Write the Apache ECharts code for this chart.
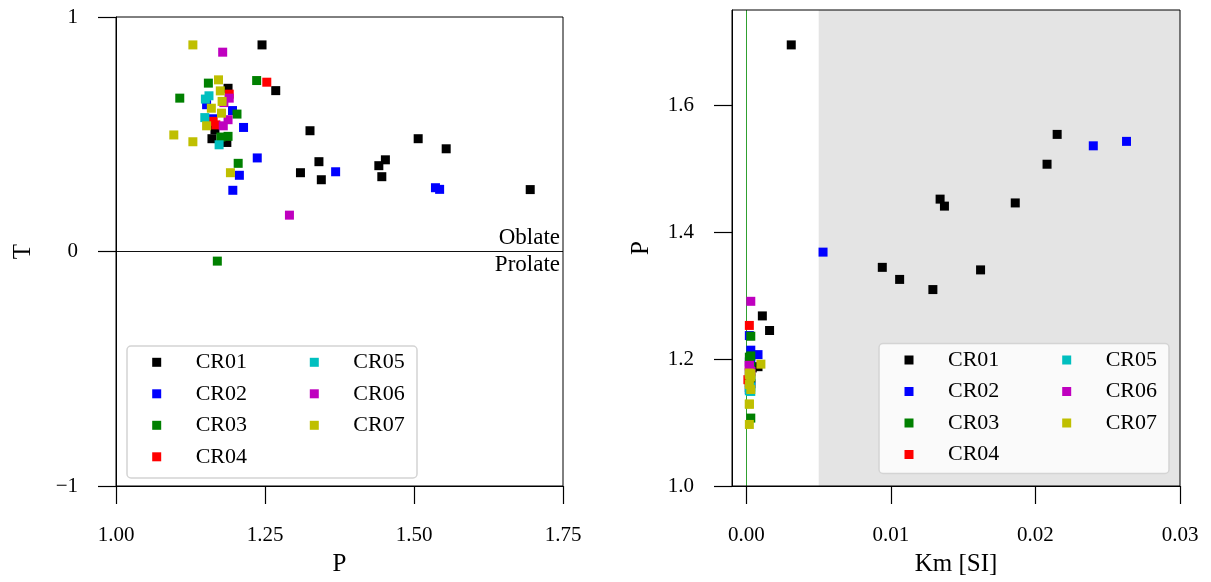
<!DOCTYPE html>
<html>
<head>
<meta charset="utf-8">
<script src="https://cdn.jsdelivr.net/npm/echarts@6/dist/echarts.min.js"></script>
<style>
  html, body { margin: 0; padding: 0; background: #fff; }
  #chart { width: 1211px; height: 582px; }
</style>
</head>
<body>
<div id="chart"></div>
<script>
// Sample groups, colours and per-sample values: P (degree of anisotropy), T (shape parameter), Km (mean susceptibility, SI)
const groupNames = ['CR01', 'CR02', 'CR03', 'CR04', 'CR05', 'CR06', 'CR07'];
const groupColors = ['#000000', '#0000ff', '#008000', '#ff0000', '#00bfbf', '#bf00bf', '#bfbf00'];

const cr01P  = [1.695, 1.554, 1.507, 1.452, 1.441, 1.446, 1.3255, 1.3405, 1.3095, 1.3445, 1.268, 1.245, 1.188, 1.161, 1.186, 1.166];
const cr01T  = [0.264, 0.438, 0.481, 0.391, 0.366, 0.319, 0.515, 0.383, 0.336, 0.306, 0.686, 0.881, 0.696, 0.481, 0.465, 0.519];
const cr01Km = [0.0031, 0.0215, 0.0208, 0.0134, 0.0137, 0.0186, 0.0106, 0.0162, 0.0129, 0.0094, 0.0011, 0.0016, 0.0008, 0.0003, 0.0004, 0.0002];

const cr02P  = [1.3685, 1.536, 1.543, 1.214, 1.237, 1.207, 1.196, 1.1955, 1.152, 1.162];
const cr02T  = [0.340, 0.272, 0.265, 0.529, 0.399, 0.325, 0.261, 0.601, 0.626, 0.566];
const cr02Km = [0.0053, 0.0240, 0.0263, 0.0003, 0.0002, 0.0008, 0.0003, 0.0002, 0.0002, 0.0003];

const cr03P  = [1.107, 1.155, 1.170, 1.176, 1.188, 1.203, 1.205, 1.236];
const cr03T  = [0.654, 0.718, -0.041, 0.488, 0.491, 0.586, 0.376, 0.729];
const cr03Km = [0.0003, 0.0002, 0.0003, 0.0002, 0.0003, 0.0002, 0.0003, 0.0003];

const cr04P  = [1.253, 1.190, 1.1675, 1.163];
const cr04T  = [0.722, 0.671, 0.540, 0.555];
const cr04Km = [0.0002, 0.0002, 0.0001, 0.0002];

const cr05P  = [1.156, 1.150, 1.149, 1.173];
const cr05T  = [0.664, 0.650, 0.571, 0.455];
const cr05Km = [0.0003, 0.0002, 0.0003, 0.0003];

const cr06P  = [1.179, 1.291, 1.190, 1.181, 1.188, 1.180];
const cr06T  = [0.850, 0.155, 0.654, 0.635, 0.562, 0.536];
const cr06Km = [0.0002, 0.0003, 0.0002, 0.0003, 0.0002, 0.0003];

const cr07P  = [1.097, 1.129, 1.129, 1.152, 1.160, 1.172, 1.175, 1.177, 1.178, 1.192];
const cr07T  = [0.497, 0.881, 0.468, 0.536, 0.611, 0.732, 0.685, 0.590, 0.640, 0.336];
const cr07Km = [0.0002, 0.0002, 0.0002, 0.0003, 0.0002, 0.0003, 0.0002, 0.0003, 0.0002, 0.0010];

// Axis ticks
const pTicksLeft = [1.0, 1.25, 1.5, 1.75];
const tTicks = [-1, 0, 1];
const kmTicks = [0, 0.01, 0.02, 0.03];
const pTicksRight = [1.0, 1.2, 1.4, 1.6];
const kmShadeFrom = 0.005;   // shaded Km interval starts here

const groupP  = [cr01P, cr02P, cr03P, cr04P, cr05P, cr06P, cr07P];
const groupT  = [cr01T, cr02T, cr03T, cr04T, cr05T, cr06T, cr07T];
const groupKm = [cr01Km, cr02Km, cr03Km, cr04Km, cr05Km, cr06Km, cr07Km];

const FONT = 'Liberation Serif';
const BLACK = '#000';

function axisCommon() {
  return {
    axisLine: { show: true, onZero: false, lineStyle: { color: BLACK, width: 1 } },
    axisTick: { show: true, inside: false, length: 18, lineStyle: { color: BLACK, width: 1.2 } },
    axisLabel: { color: BLACK, fontSize: 21, fontFamily: FONT },
    splitLine: { show: false },
    nameTextStyle: { color: BLACK, fontSize: 25, fontFamily: FONT },
    nameLocation: 'middle'
  };
}

const series = [];
groupNames.forEach((name, g) => {
  const s = {
    name: name,
    type: 'scatter',
    xAxisIndex: 0, yAxisIndex: 0,
    symbol: 'rect', symbolSize: 9,
    itemStyle: { color: groupColors[g], opacity: 1 },
    data: groupP[g].map((p, i) => [p, groupT[g][i]]),
    z: 2
  };
  if (g === 0) {
    s.markLine = {
      silent: true, z: 1, symbol: ['none', 'none'],
      lineStyle: { color: '#111', width: 1.2, type: 'solid' },
      label: { show: true, color: BLACK, fontSize: 23, fontFamily: FONT, distance: [3, 2] },
      data: [
        { yAxis: 0, label: { position: 'insideEndTop', formatter: 'Oblate' } },
        { yAxis: 0, label: { position: 'insideEndBottom', formatter: 'Prolate' } }
      ]
    };
  }
  series.push(s);
});
groupNames.forEach((name, g) => {
  const s = {
    name: name,
    type: 'scatter',
    xAxisIndex: 1, yAxisIndex: 1,
    symbol: 'rect', symbolSize: 9,
    itemStyle: { color: groupColors[g], opacity: 1 },
    data: groupKm[g].map((k, i) => [k, groupP[g][i]]),
    z: 2
  };
  if (g === 0) {
    s.markArea = {
      silent: true, z: 1,
      itemStyle: { color: '#e4e4e4' },
      data: [[{ xAxis: kmShadeFrom }, { xAxis: kmTicks[kmTicks.length - 1] }]]
    };
    s.markLine = {
      silent: true, z: 1, symbol: ['none', 'none'],
      lineStyle: { color: '#30a030', width: 1, type: 'solid' },
      label: { show: false },
      data: [{ xAxis: 0 }]
    };
  }
  series.push(s);
});

// One legend column: square key, then the group name set off by a wide gap
function legendColumn(names, left, top) {
  return {
    orient: 'vertical', left: left, top: top, padding: 0,
    data: names, selectedMode: false, z: 20,
    icon: 'rect',
    itemWidth: 9, itemHeight: 9, itemGap: 9.5,
    textStyle: { color: BLACK, fontSize: 22, lineHeight: 22, fontFamily: FONT, padding: [0, 0, 0, 29.5] }
  };
}

const option = {
  animation: false,
  backgroundColor: '#fff',
  textStyle: { fontFamily: FONT },
  grid: [
    { left: 116, top: 17, width: 447, height: 470, show: true, borderColor: BLACK, borderWidth: 1, backgroundColor: 'transparent', z: 3 },
    { left: 732, top: 10, width: 448, height: 476, show: true, borderColor: BLACK, borderWidth: 1, backgroundColor: 'transparent', z: 3 }
  ],
  xAxis: [
    Object.assign(axisCommon(), {
      type: 'value', gridIndex: 0, min: 1.0, max: 1.75, interval: 0.25,
      name: 'P', nameGap: 66, z: 3
    }),
    Object.assign(axisCommon(), {
      type: 'value', gridIndex: 1, min: -0.001, max: 0.03,
      name: 'Km [SI]', nameGap: 66, z: 3
    })
  ],
  yAxis: [
    Object.assign(axisCommon(), {
      type: 'value', gridIndex: 0, min: -1, max: 1, interval: 1,
      name: 'T', nameGap: 80, nameRotate: 90, z: 3
    }),
    Object.assign(axisCommon(), {
      type: 'value', gridIndex: 1, min: 1.0, max: 1.75,
      name: 'P', nameGap: 78, nameRotate: 90, z: 3
    })
  ],
  legend: [
    legendColumn(groupNames.slice(0, 4), 152.2, 351.3),
    legendColumn(groupNames.slice(4), 309.8, 351.3),
    legendColumn(groupNames.slice(0, 4), 904.5, 349),
    legendColumn(groupNames.slice(4), 1062.2, 349)
  ],
  graphic: [
    { type: 'rect', z: 15, silent: true, shape: { x: 127, y: 346, width: 290, height: 132, r: 4 },
      style: { fill: 'rgba(255,255,255,0.85)', stroke: '#d4d4d4', lineWidth: 1.5 } },
    { type: 'rect', z: 15, silent: true, shape: { x: 879, y: 343.5, width: 290, height: 130, r: 4 },
      style: { fill: 'rgba(255,255,255,0.8)', stroke: '#d4d4d4', lineWidth: 1.5 } }
  ],
  series: series
};

// Tick labels and tick positions
option.xAxis[0].axisLabel.formatter = v => v.toFixed(2);
option.xAxis[0].axisLabel.margin = 39;
option.xAxis[0].axisLabel.customValues = pTicksLeft;
option.xAxis[0].axisTick.customValues = pTicksLeft;
option.xAxis[1].axisLabel.formatter = v => v.toFixed(2);
option.xAxis[1].axisLabel.margin = 39;
option.xAxis[1].axisLabel.customValues = kmTicks;
option.xAxis[1].axisTick.customValues = kmTicks;
option.yAxis[0].axisLabel.formatter = v => (v < 0 ? '\u2212' + Math.abs(v) : String(v));
option.yAxis[0].axisLabel.margin = 38;
option.yAxis[0].axisLabel.customValues = tTicks;
option.yAxis[0].axisTick.customValues = tTicks;
option.yAxis[1].axisLabel.formatter = v => v.toFixed(1);
option.yAxis[1].axisLabel.margin = 38;
option.yAxis[1].axisLabel.customValues = pTicksRight;
option.yAxis[1].axisTick.customValues = pTicksRight;

const chart = echarts.init(document.getElementById('chart'), null, { renderer: 'canvas' });
chart.setOption(option);
</script>
</body>
</html>
